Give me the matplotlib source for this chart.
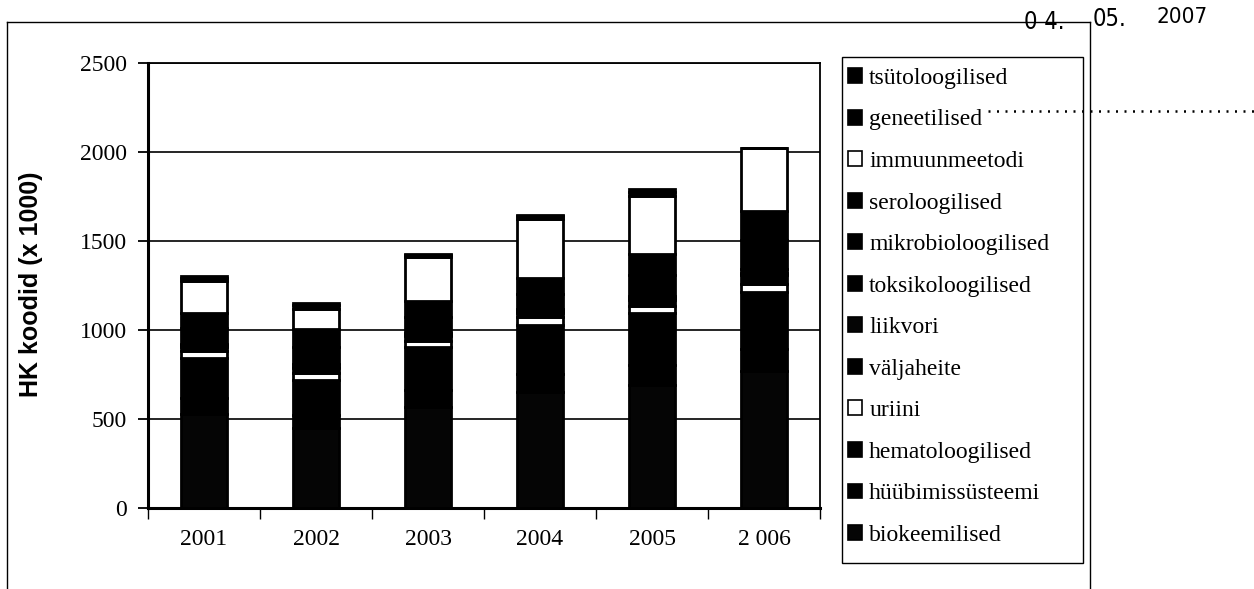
import matplotlib
matplotlib.use("Agg")
import matplotlib.pyplot as plt
from matplotlib.patches import Patch, Rectangle
from matplotlib.lines import Line2D
import numpy as np

years = ["2001", "2002", "2003", "2004", "2005", "2 006"]

# stack order bottom -> top
series_names = ["biokeemilised", "hüübimissüsteemi", "hematoloogilised", "uriini",
                "väljaheite", "liikvori", "toksikoloogilised", "mikrobioloogilised",
                "seroloogilised", "immuunmeetodi", "geneetilised", "tsütoloogilised"]
biokeemilised      = [530, 450, 570, 650, 690, 770]
hyybimissysteemi   = [90, 75, 95, 105, 112, 125]
hematoloogilised   = [224, 195, 241, 274, 295, 320]
uriini             = [36, 36, 32, 42, 36, 42]
valjaheite         = [26, 30, 27, 27, 36, 50]
liikvori           = [7, 8, 7, 7, 9, 12]
toksikoloogilised  = [11, 13, 11, 11, 15, 21]
mikrobioloogilised = [87, 100, 91, 89, 118, 165]
seroloogilised     = [86, 100, 90, 89, 118, 165]
immuunmeetodi      = [178, 111, 245, 330, 324, 350]
geneetilised       = [18, 21, 12, 14, 25, 3]
tsytoloogilised    = [12, 14, 8, 10, 16, 2]

series_values = [biokeemilised, hyybimissysteemi, hematoloogilised, uriini, valjaheite,
                 liikvori, toksikoloogilised, mikrobioloogilised, seroloogilised,
                 immuunmeetodi, geneetilised, tsytoloogilised]
series_colors = ["#050505", "#000000", "#000000", "#ffffff", "#000000", "#050505",
                 "#000000", "#000000", "#000000", "#ffffff", "#000000", "#000000"]

yticks = [0, 500, 1000, 1500, 2000, 2500]

W, H = 1254, 589
fig = plt.figure(figsize=(W / 100, H / 100), dpi=100)
fig.patch.set_facecolor("white")

def fx(px):
    return px / W

def fy(py):
    return 1 - py / H

ax = fig.add_axes([fx(148), fy(508), fx(820) - fx(148), fy(63) - fy(508)])

x = np.arange(len(years))
bottom = np.zeros(len(years))
for name, vals, col in zip(series_names, series_values, series_colors):
    vals = np.array(vals, dtype=float)
    ax.bar(x, vals, width=0.41, bottom=bottom, color=col, edgecolor="black",
           linewidth=2.0, label=name, zorder=3)
    bottom += vals

ax.set_xlim(-0.5, len(years) - 0.5)
ax.set_ylim(0, 2500)
ax.set_yticks(yticks)
ax.set_yticklabels([str(v) for v in yticks])
ax.set_xticks(x)
ax.set_xticklabels(years)
ax.set_xticks(np.arange(len(years) + 1) - 0.5, minor=True)
ax.yaxis.grid(True, color="black", linewidth=1.2, zorder=0)
ax.set_axisbelow(True)
for s in ax.spines.values():
    s.set_color("black")
    s.set_linewidth(1.3)
ax.spines["left"].set_linewidth(2.2)
ax.spines["bottom"].set_linewidth(2.2)

serif = ["Liberation Serif", "DejaVu Serif"]
ax.tick_params(axis="y", direction="out", length=7, width=1.3, pad=8, labelsize=17)
ax.tick_params(axis="x", which="major", length=0, pad=15, labelsize=17)
ax.tick_params(axis="x", which="minor", direction="out", length=8, width=1.0)
for lab in ax.get_xticklabels() + ax.get_yticklabels():
    lab.set_family(serif)

fig.text(fx(31), fy(284), "HK koodid (x 1000)", rotation=90, ha="center", va="center",
         fontsize=18, fontweight="bold", family=["Liberation Sans", "DejaVu Sans"])

# legend (top entry = top of stack)
handles = [Patch(facecolor=c, edgecolor="black", linewidth=1.2) for c in series_colors][::-1]
labels = series_names[::-1]
leg = fig.legend(handles, labels, loc="upper left",
                 bbox_to_anchor=(fx(842), fy(62)), bbox_transform=fig.transFigure,
                 frameon=False, prop={"family": serif, "size": 17},
                 handlelength=0.6, handleheight=0.6, handletextpad=0.3,
                 labelspacing=0.87, borderpad=0.25, borderaxespad=0)

# legend frame
fig.add_artist(Rectangle((fx(842), fy(563)), fx(1083) - fx(842), fy(57) - fy(563),
                         transform=fig.transFigure, fill=False, edgecolor="black", linewidth=1.0))

# outer frame of the scanned page
fig.add_artist(Line2D([fx(7), fx(1090)], [fy(22), fy(22)], transform=fig.transFigure,
                      color="black", linewidth=1.0))
fig.add_artist(Line2D([fx(7), fx(7)], [fy(22), fy(589)], transform=fig.transFigure,
                      color="black", linewidth=1.0))
fig.add_artist(Line2D([fx(1090), fx(1090)], [fy(22), fy(589)], transform=fig.transFigure,
                      color="black", linewidth=1.0))

# dotted line from legend entry
fig.add_artist(Line2D([fx(988), fx(1254)], [fy(111), fy(111)], transform=fig.transFigure,
                      color="black", linewidth=1.8, linestyle=(0, (0.8, 2.6))))

# date stamp
stamp = ["DejaVu Sans"]
fig.text(fx(1024), fy(22), "0 4.", ha="left", va="center", fontsize=17, family=stamp,
         fontstretch="condensed")
fig.text(fx(1093), fy(19), "05.", ha="left", va="center", fontsize=17, family=stamp,
         fontstretch="condensed")
fig.text(fx(1156), fy(17), "2007", ha="left", va="center", fontsize=16, family=stamp,
         fontstretch="condensed")

fig.savefig("out.png", dpi=100, facecolor="white")
